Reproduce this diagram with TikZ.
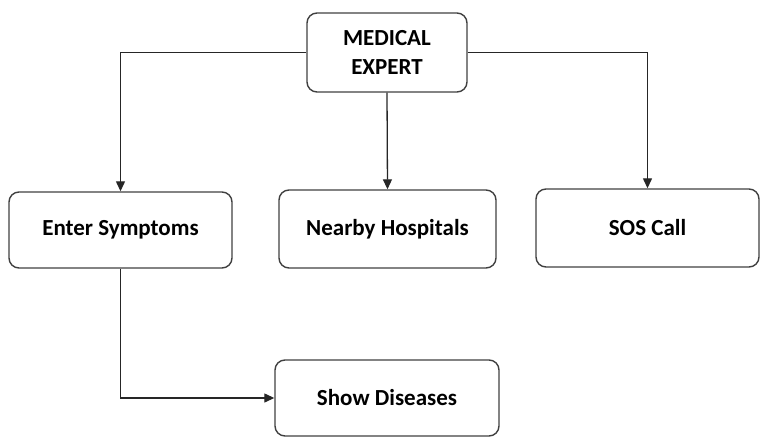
\documentclass[tikz,border=0pt]{standalone}
\usepackage{fontspec}
\setmainfont{Carlito}
\usetikzlibrary{arrows.meta}

\begin{document}
\begin{tikzpicture}[x=1pt, y=-1pt,
  box/.style={draw=black!75, line width=1.4pt, rounded corners=10pt, align=center, inner sep=0pt,
    font=\bfseries\fontsize{23}{29}\selectfont},
  link/.style={draw=black!85, line width=1.3pt, -{Triangle[length=10pt,width=9pt]}}]
\useasboundingbox (0,0) rectangle (760,438);
\node[box, minimum width=160pt, minimum height=79pt] (expert) at (387,52.5) {MEDICAL\\EXPERT};
\node[box, minimum width=223pt, minimum height=76pt] (symptoms) at (120.5,230) {Enter Symptoms};
\node[box, minimum width=217pt, minimum height=78pt] (hospitals) at (387.5,229) {Nearby Hospitals};
\node[box, minimum width=223pt, minimum height=78pt] (sos) at (647.5,228) {SOS Call};
\node[box, minimum width=224pt, minimum height=76pt] (diseases) at (387,398) {Show Diseases};
\draw[link] (expert.west) -| (symptoms.north);
\draw[link] (expert.south) -- (hospitals.north);
\draw[link] (expert.east) -| (sos.north);
\draw[link] (symptoms.south) |- (diseases.west);
\end{tikzpicture}
\end{document}
